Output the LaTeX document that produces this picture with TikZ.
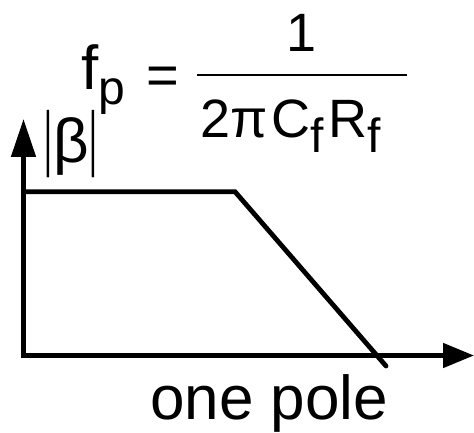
\documentclass[tikz,border=0pt]{standalone}
\usepackage{fontspec}
\setmainfont{Liberation Sans}
\usetikzlibrary{arrows.meta,calc,positioning}
\definecolor{PlotInk}{HTML}{000000}
\newcommand{\bodesize}[1]{\fontsize{#1}{#1}\selectfont}
\newcommand{\magbar}{\scalebox{1}[2.4]{\bodesize{30}|}}
\newcommand{\subf}{\raisebox{-15pt}{\bodesize{48}f}}

\begin{document}
\begin{tikzpicture}[
  x=1pt,
  y=1pt,
  >=Triangle,
  axis/.style={{Triangle[length=38pt,width=24pt]}-{Triangle[length=31pt,width=24pt]},
    draw=PlotInk,line width=4.8pt,line join=miter},
  curve/.style={draw=PlotInk,line width=4.8pt,line cap=round,line join=miter},
  txt/.style={inner sep=0pt,outer sep=0pt,text=PlotInk},
  bar/.style={draw=PlotInk,line width=1.3pt}
]
  \useasboundingbox (0,0) rectangle (474,433);

  % axes
  \coordinate (origin) at (23.5,77.5);
  \coordinate (ytip) at (23.5,314);
  \coordinate (xtip) at (474,77.5);
  \draw[axis] (ytip) -- (origin) -- (xtip);

  % one pole response
  \coordinate (flat) at (23.5,241.3);
  \coordinate (knee) at (235,241.3);
  \coordinate (roll) at (386,67);
  \draw[curve] (flat) -- (knee) -- (roll);

  % labels
  \node[txt,font=\bodesize{62}] (mag) at (71,289) {\magbar\kern1ptβ\kern1pt\magbar};
  \node[txt,anchor=base west,font=\bodesize{62}] (fp) at (81,343) {f};
  \node[txt,anchor=base west,font=\bodesize{48}] (fpsub) at ($(fp.base east)+(0,-15)$) {p};
  \node[txt,anchor=base,font=\bodesize{56}] (eq) at (162.5,338.5) {=};
  \node[txt,anchor=base,font=\bodesize{54}] (num) at (302,381) {1};
  \node[txt,anchor=base west,font=\bodesize{54}] (den) at (200,295)
    {2π\kern4pt C\subf\kern5pt R\subf};
  \draw[bar] (197,358) -- (407,358);
  \node[txt,anchor=base,font=\bodesize{62}] (pole) at (269,13) {one pole};
\end{tikzpicture}
\end{document}
